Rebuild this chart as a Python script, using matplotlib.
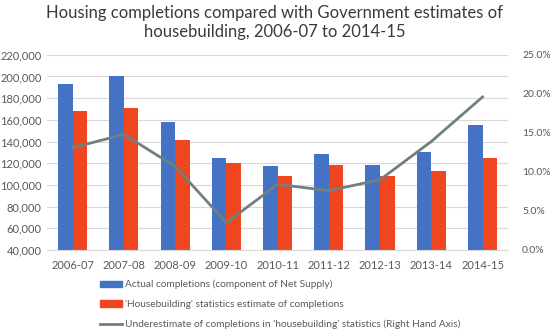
import numpy as np
import matplotlib.pyplot as plt
from matplotlib.patches import Patch
from matplotlib.lines import Line2D
from matplotlib.ticker import FuncFormatter, MultipleLocator

plt.rcParams['font.family'] = ['Lato', 'DejaVu Sans']

years = ['2006-07', '2007-08', '2008-09', '2009-10', '2010-11',
         '2011-12', '2012-13', '2013-14', '2014-15']
actual = [193000, 200000, 158000, 125000, 117500, 128500, 118500, 130500, 155000]
housebuilding = [168000, 171000, 141000, 120000, 108000, 118500, 108000, 112500, 125000]
underestimate = [13.1, 14.8, 10.7, 3.5, 8.4, 7.6, 9.0, 13.9, 19.6]

blue = '#4472C4'
red = '#F0461F'
grey_line = '#6F8081'
txt = '#595959'

fig = plt.figure(figsize=(5.5, 3.36), dpi=100)
ax = fig.add_axes([0.0855, 0.256, 0.8385, 0.581])
ax2 = ax.twinx()

x = np.arange(len(years))
w = 0.285
ax.bar(x - w / 2, actual, w, color=blue, zorder=2)
ax.bar(x + w / 2, housebuilding, w, color=red, zorder=2)

ax.set_ylim(40000, 220000)
ax.set_xlim(-0.5, len(years) - 0.5)
ax.yaxis.set_major_locator(MultipleLocator(20000))
ax.yaxis.set_major_formatter(FuncFormatter(lambda v, p: f'{int(v):,}'))
ax.grid(axis='y', color='#D9D9D9', linewidth=0.8, zorder=0)
ax.set_axisbelow(True)
ax.set_xticks(x)
ax.set_xticklabels(years)

ax2.plot(x, underestimate, color=grey_line, linewidth=2, zorder=3)
ax2.set_ylim(0, 25)
ax2.yaxis.set_major_locator(MultipleLocator(5))
ax2.yaxis.set_major_formatter(FuncFormatter(lambda v, p: f'{v:.1f}%'))

for a in (ax, ax2):
    for s in a.spines.values():
        s.set_visible(False)
    a.tick_params(length=0, labelsize=8, colors=txt, pad=4)
ax.spines['bottom'].set_visible(True)
ax.spines['bottom'].set_color('#D9D9D9')
ax.tick_params(axis='x', pad=7)
ax2.tick_params(axis='y', labelsize=7.5, pad=10)

fig.suptitle('Housing completions compared with Government estimates of\nhousebuilding, 2006-07 to 2014-15',
             y=0.985, fontsize=12, color='#3A3A3A', linespacing=1.25)

handles = [Patch(color=blue), Patch(color=red),
           Line2D([0], [0], color=grey_line, linewidth=2)]
labels = ['Actual completions (component of Net Supply)',
          "'Housebuilding' statistics estimate of completions",
          "Underestimate of completions in 'housebuilding' statistics (Right Hand Axis)"]
fig.legend(handles, labels, loc='upper left', bbox_to_anchor=(0.172, 0.182),
           frameon=False, fontsize=7.3, labelcolor=txt, handlelength=2.25,
           handleheight=0.55, handletextpad=0.2, labelspacing=1.05, borderpad=0)

fig.savefig('out.png', dpi=100)
